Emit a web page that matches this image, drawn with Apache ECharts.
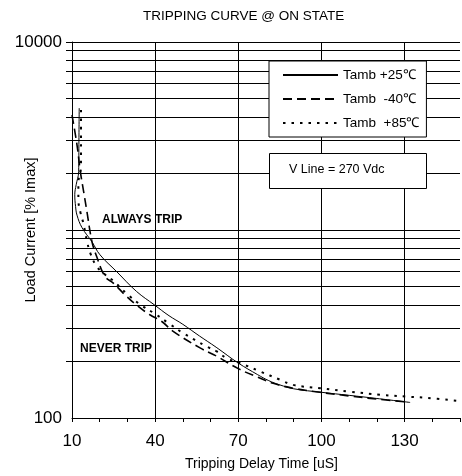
<!DOCTYPE html>
<html>
<head>
<meta charset="utf-8">
<script src="https://cdn.jsdelivr.net/npm/echarts@6/dist/echarts.min.js"></script>
<style>
    html, body { margin: 0; padding: 0; background: #fff; }
    #chart { width: 462px; height: 476px; }
</style>
</head>
<body>
<div id="chart"></div>
<script>
// 曲线数据
var names = ['Tamb +25℃', 'Tamb  -40℃', 'Tamb  +85℃'];

var x25 = [12.6, 12.5, 12.4, 11.5, 11.0, 11.3, 11.8, 13.6, 17.2, 20.1, 26.1, 33.3, 39.7, 45.0, 50.0, 56.0, 62.0, 70.0, 77.0, 81.0, 85.0, 90.0, 100.0, 110.0, 120.0, 132.0];
var y25 = [4450, 3010, 2040, 1740, 1540, 1330, 1200, 1030, 865, 738, 601, 471, 400, 350, 315, 273, 238, 196, 170, 158, 150, 143, 137, 132, 127, 121];

var xm40 = [10.0, 11.8, 13.0, 14.2, 15.4, 17.2, 18.9, 21.9, 24.9, 29.7, 33.9, 38.1, 42.4, 46.5, 56.2, 62.0, 70.0, 77.0, 82.6, 89.8, 99.5, 110.0, 120.0, 130.1];
var ym40 = [4090, 2840, 2050, 1600, 1250, 868, 722, 566, 522, 443, 392, 354, 326, 289, 236, 214, 183, 165, 153, 144, 137, 131, 126, 122];

var x85 = [13.25, 13.25, 13.25, 12.3, 12.3, 13.1, 14.1, 15.3, 16.7, 18.9, 21.9, 25.0, 30.0, 35.0, 40.0, 45.0, 50.1, 58.6, 62.2, 65.8, 70.6, 77.8, 85.0, 89.8, 99.5, 110.3, 121.1, 130.7, 137.9, 150.0];
var y85 = [4350, 3010, 2175, 1780, 1446, 1230, 1087, 887, 747, 640, 580, 535, 455, 398, 358, 318, 283, 240, 226, 208, 196, 177, 160, 150, 144, 138, 133, 130, 128, 123];

// 对数网格线
var gridVals = [200, 300, 400, 500, 600, 700, 800, 900, 1000, 2000, 3000, 4000, 5000, 6000, 7000, 8000, 9000, 10000];

function pairs(xs, ys) {
    var arr = [];
    for (var i = 0; i < xs.length; i++) {
        arr.push([xs[i], ys[i]]);
    }
    return arr;
}

var oChart = echarts.init(document.getElementById('chart'));

var font = 'Liberation Sans';

var chartopt = {
    animation: false,
    textStyle: { fontFamily: font, color: '#000' },
    title: {
        text: 'TRIPPING CURVE @ ON STATE',
        left: 143,
        top: 9,
        padding: 0,
        textStyle: { fontSize: 13.5, fontWeight: 'normal', color: '#000', fontFamily: font }
    },
    legend: {
        orient: 'vertical',
        left: 269,
        top: 61,
        padding: [7, 7, 7, 13],
        itemWidth: 55,
        itemHeight: 14,
        itemGap: 10,
        selectedMode: false,
        backgroundColor: '#fff',
        borderColor: '#000',
        borderWidth: 1,
        borderRadius: 0,
        itemStyle: { opacity: 0 },
        textStyle: { fontSize: 13.5, color: '#000', fontFamily: font },
        data: names,
        z: 10
    },
    grid: [
        { left: 72, right: 2, top: 42, bottom: 58, outerBoundsMode: 'none', containLabel: false },
        { left: 66, right: 2, top: 42, bottom: 58, outerBoundsMode: 'none', containLabel: false }
    ],
    xAxis: [{
        type: 'value',
        gridIndex: 0,
        min: 10,
        max: 150,
        interval: 30,
        name: 'Tripping Delay Time [uS]',
        nameLocation: 'middle',
        nameGap: 39,
        nameMoveOverlap: false,
        nameTextStyle: { fontSize: 14, color: '#000', padding: [0, 9, 0, 0] },
        axisLine: { lineStyle: { color: '#000', width: 1 } },
        axisTick: { inside: false, length: 4, lineStyle: { color: '#000' } },
        minorTick: { show: true, splitNumber: 3, length: 4, lineStyle: { color: '#000' } },
        axisLabel: { fontSize: 17, color: '#000', margin: 15, showMaxLabel: false },
        splitLine: { show: true, showMinLine: false, showMaxLine: false, lineStyle: { color: '#000', width: 1 } }
    }, {
        type: 'value',
        gridIndex: 1,
        min: 0,
        max: 1,
        show: false
    }],
    yAxis: [{
        type: 'log',
        gridIndex: 0,
        logBase: 10,
        min: 100,
        max: 10000,
        name: 'Load Current [% Imax]',
        nameLocation: 'middle',
        nameGap: 34,
        nameMoveOverlap: false,
        nameTextStyle: { fontSize: 14.5, color: '#000' },
        axisLine: { show: true, lineStyle: { color: '#000', width: 1 } },
        axisTick: { show: false },
        axisLabel: {
            fontSize: 17,
            color: '#000',
            margin: 10,
            formatter: function (v) {
                return v == 1000 ? '' : v;
            }
        },
        splitLine: { show: false }
    }, {
        type: 'log',
        gridIndex: 1,
        logBase: 10,
        min: 100,
        max: 10000,
        show: false
    }],
    series: [{
        name: 'grid',
        type: 'line',
        xAxisIndex: 1,
        yAxisIndex: 1,
        data: [],
        z: 1,
        markLine: {
            silent: true,
            symbol: ['none', 'none'],
            label: { show: false },
            lineStyle: { color: '#000', type: 'solid', width: 1 },
            data: gridVals.map(function (v) { return { yAxis: v }; })
        }
    }, {
        name: names[0],
        type: 'line',
        smooth: 0.4,
        symbol: 'none',
        z: 3,
        lineStyle: { color: '#000', width: 1, type: 'solid' },
        itemStyle: { color: '#000', opacity: 0 },
        data: pairs(x25, y25)
    }, {
        name: names[1],
        type: 'line',
        smooth: 0.4,
        symbol: 'none',
        z: 3,
        lineStyle: { color: '#000', width: 1.6, type: [9, 5] },
        itemStyle: { color: '#000', opacity: 0 },
        data: pairs(xm40, ym40)
    }, {
        name: names[2],
        type: 'line',
        smooth: 0.4,
        symbol: 'none',
        z: 3,
        lineStyle: { color: '#000', width: 2, type: [2.5, 6] },
        itemStyle: { color: '#000', opacity: 0 },
        data: pairs(x85, y85)
    }],
    graphic: [{
        type: 'rect',
        z: 10,
        shape: { x: 269.5, y: 153.5, width: 157, height: 35 },
        style: { fill: '#fff', stroke: '#000', lineWidth: 1 }
    }, {
        type: 'text',
        z: 11,
        x: 289,
        y: 170,
        style: { text: 'V Line = 270 Vdc', fontSize: 12.5, fontFamily: font, fill: '#000', verticalAlign: 'middle' }
    }, {
        type: 'text',
        z: 11,
        x: 102,
        y: 220,
        style: { text: 'ALWAYS TRIP', fontSize: 12, fontWeight: 'bold', fontFamily: font, fill: '#000', verticalAlign: 'middle' }
    }, {
        type: 'text',
        z: 11,
        x: 80,
        y: 349,
        style: { text: 'NEVER TRIP', fontSize: 12, fontWeight: 'bold', fontFamily: font, fill: '#000', verticalAlign: 'middle' }
    }]
};

oChart.setOption(chartopt);
</script>
</body>
</html>
